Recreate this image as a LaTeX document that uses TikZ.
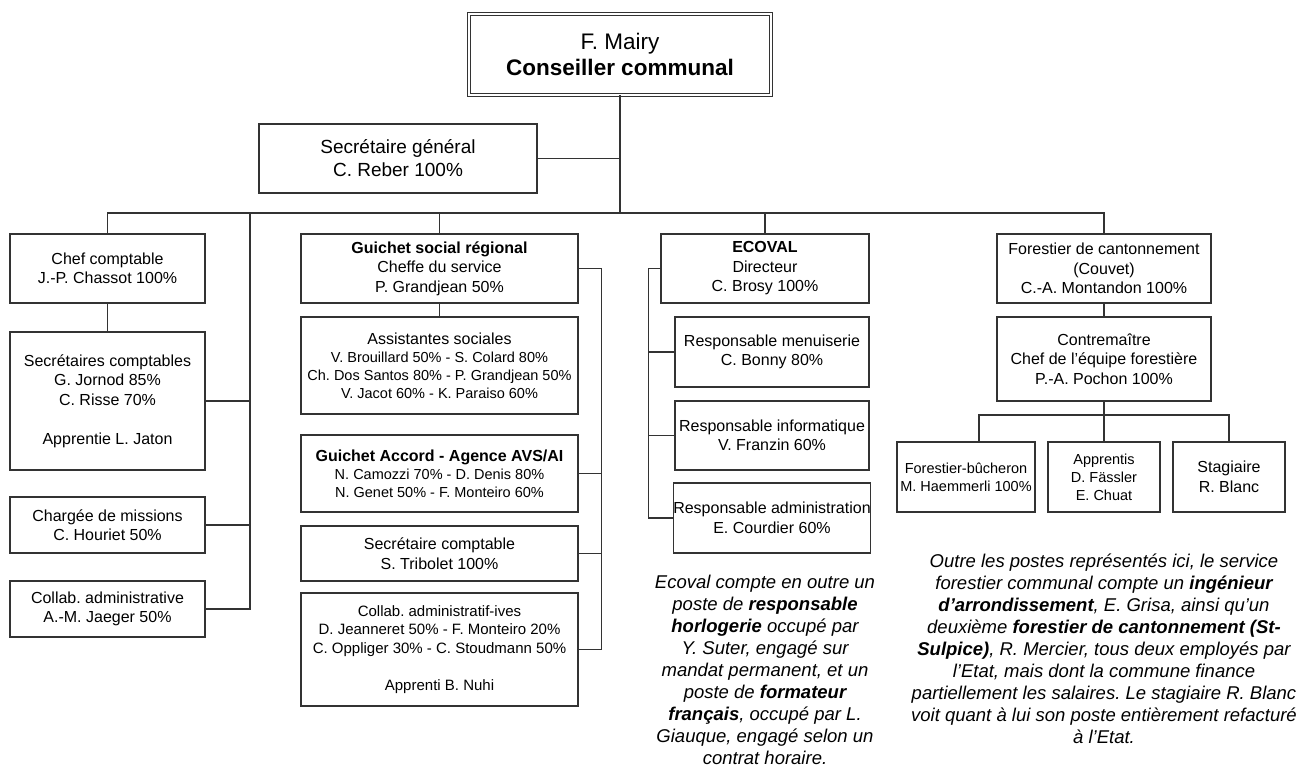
\documentclass[tikz,border=0pt]{standalone}
\usepackage{fontspec}
\setmainfont{Liberation Sans}
\usetikzlibrary{calc}
\frenchspacing

\newcommand\fmain{\fontsize{16}{19.5}\selectfont}
\newcommand\fsmall{\fontsize{14.5}{18}\selectfont}
\newcommand\fmid{\fontsize{15}{18.5}\selectfont}
\newcommand\fnote{\fontsize{18.5}{22}\selectfont\itshape}

\tikzset{
    post/.style={draw=black!80, line width=1.1pt, align=center,
                 inner sep=0pt, font=\fmain},
    link/.style={draw=black!80, line width=1.1pt},
    note/.style={align=center, inner sep=0pt, font=\fnote}
}

\begin{document}
\begin{tikzpicture}[x=1pt,y=-1pt]
  \useasboundingbox (0,0) rectangle (1309,773);

  % top of the chart
  \node[post, double, double distance=2pt, line width=0.8pt,
        minimum width=302pt, minimum height=81pt,
        font=\fontsize{22.5}{26}\selectfont] (mairy) at (620,54.5)
        {F. Mairy\\\textbf{Conseiller communal}};
  \node[post, minimum width=278pt, minimum height=69pt,
        font=\fontsize{19}{23}\selectfont] (secgen) at (398,158.5)
        {Secrétaire général\\C. Reber 100\%};

  % finances
  \node[post, minimum width=195pt, minimum height=69pt] (chefcpt) at (107.5,268.5)
        {Chef comptable\\J.-P. Chassot 100\%};
  \node[post, minimum width=195pt, minimum height=138pt] (seccpt) at (107.5,401)
        {Secrétaires comptables\\G. Jornod 85\%\\C. Risse 70\%\\[19.5pt]Apprentie L. Jaton};
  \node[post, minimum width=195pt, minimum height=56pt] (chmiss) at (107.5,525)
        {Chargée de missions\\C. Houriet 50\%};
  \node[post, minimum width=195pt, minimum height=56pt] (collab) at (107.5,609)
        {Collab. administrative\\A.-M. Jaeger 50\%};

  % guichet social
  \node[post, minimum width=277pt, minimum height=69pt] (gsr) at (439.5,268.5)
        {\textbf{Guichet social régional}\\Cheffe du service\\P. Grandjean 50\%};
  \node[post, minimum width=277pt, minimum height=97pt, font=\fsmall] (assist) at (439.5,365.5)
        {{\fmain Assistantes sociales}\\V. Brouillard 50\% - S. Colard 80\%\\
         Ch. Dos Santos 80\% - P. Grandjean 50\%\\V. Jacot 60\% - K. Paraiso 60\%};
  \node[post, minimum width=277pt, minimum height=77pt, font=\fsmall] (accord) at (439.5,473.5)
        {{\fmain\bfseries Guichet Accord - Agence AVS/AI}\\
         N. Camozzi 70\% - D. Denis 80\%\\N. Genet 50\% - F. Monteiro 60\%};
  \node[post, minimum width=277pt, minimum height=55pt] (seccpt2) at (439.5,553.5)
        {Secrétaire comptable\\S. Tribolet 100\%};
  \node[post, minimum width=277pt, minimum height=113pt, font=\fmid] (collabiv) at (439.5,649.5)
        {Collab. administratif-ives\\D. Jeanneret 50\% - F. Monteiro 20\%\\
         C. Oppliger 30\% - C. Stoudmann 50\%\\[18.5pt]Apprenti B. Nuhi};

  % ecoval
  \node[post, minimum width=208pt, minimum height=69pt] (ecoval) at (765,268.5)
        {\textbf{ECOVAL}\\Directeur\\C. Brosy 100\%};
  \node[post, minimum width=194pt, minimum height=70pt] (menuis) at (772,352)
        {Responsable menuiserie\\C. Bonny 80\%};
  \node[post, minimum width=194pt, minimum height=69pt] (inform) at (772,435.5)
        {Responsable informatique\\V. Franzin 60\%};
  \node[post, minimum width=194pt, minimum height=70pt] (admin) at (772,518)
        {Responsable administration\\E. Courdier 60\%};

  % forets
  \node[post, minimum width=214pt, minimum height=69pt] (forcant) at (1104,268.5)
        {Forestier de cantonnement\\(Couvet)\\C.-A. Montandon 100\%};
  \node[post, minimum width=214pt, minimum height=84pt] (contrem) at (1104,359)
        {Contremaître\\Chef de l’équipe forestière\\P.-A. Pochon 100\%};
  \node[post, minimum width=138pt, minimum height=70pt, font=\fsmall] (bucher) at (966,477)
        {Forestier-bûcheron\\M. Haemmerli 100\%};
  \node[post, minimum width=112pt, minimum height=70pt, font=\fsmall] (apprent) at (1104,477)
        {Apprentis\\D. Fässler\\E. Chuat};
  \node[post, minimum width=112pt, minimum height=70pt] (stag) at (1229,477)
        {Stagiaire\\R. Blanc};

  \coordinate (busL) at (107.5,213);
  \coordinate (busR) at (1104,213);
  \coordinate (spineL) at (250,213);
  \coordinate (forbus) at (1104,415);

  \draw[link] (mairy.south) -- (mairy.south |- busL);
  \draw[link] (secgen.east) -- (secgen.east -| mairy.south);
  \draw[link] (chefcpt.north) -- (busL) -- (busR) -- (forcant.north);
  \draw[link] (gsr.north) -- (gsr.north |- busL);
  \draw[link] (ecoval.north) -- (ecoval.north |- busL);

  \draw[link] (chefcpt.south) -- (seccpt.north);
  \draw[link] (spineL) |- (collab.east);
  \foreach \n in {seccpt,chmiss}
    \draw[link] (\n.east) -- (\n.east -| spineL);

  \draw[link] (gsr.south) -- (assist.north);
  \draw[link] (gsr.east) -- ++(23,0) |- (collabiv.east);
  \foreach \n in {accord,seccpt2}
    \draw[link] (\n.east) -- ++(23,0);

  \draw[link] (ecoval.west) -- ++(-12,0) |- (admin.west);
  \foreach \n in {menuis,inform}
    \draw[link] (\n.west) -- ++(-26,0);

  \draw[link] (forcant.south) -- (contrem.north);
  \draw[link] (contrem.south) -- (forbus);
  \draw[link] ([xshift=13pt]bucher.north) |- (forbus) -| (stag.north);
  \draw[link] (forbus) -- (apprent.north);

  % notes
  \node[note] (ecnote) at (765,670)
        {Ecoval compte en outre un\\
         poste de \textbf{responsable}\\
         \textbf{horlogerie} occupé par\\
         Y. Suter, engagé sur\\
         mandat permanent, et un\\
         poste de \textbf{formateur}\\
         \textbf{français}, occupé par L.\\
         Giauque, engagé selon un\\
         contrat horaire.};
  \node[note] (fonote) at (1104,649)
        {Outre les postes représentés ici, le service\\
         forestier communal compte un \textbf{ingénieur}\\
         \textbf{d’arrondissement}, E. Grisa, ainsi qu’un\\
         deuxième \textbf{forestier de cantonnement (St-}\\
         \textbf{Sulpice)}, R. Mercier, tous deux employés par\\
         l’Etat, mais dont la commune finance\\
         partiellement les salaires. Le stagiaire R. Blanc\\
         voit quant à lui son poste entièrement refacturé\\
         à l’Etat.};
\end{tikzpicture}
\end{document}
